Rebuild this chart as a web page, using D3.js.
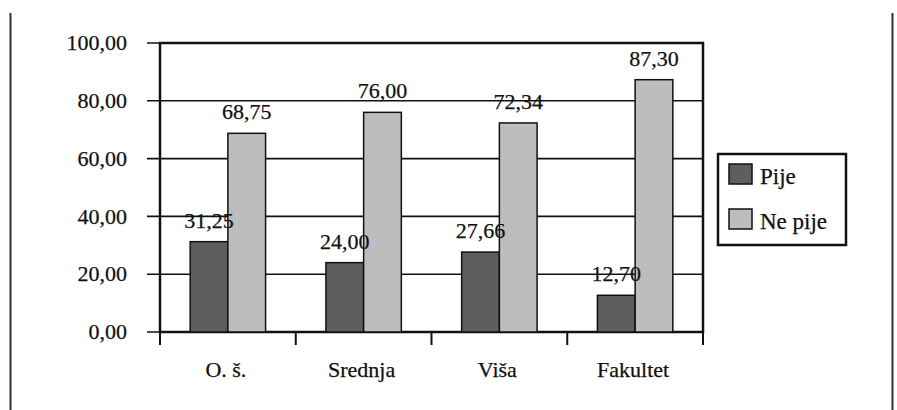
<!DOCTYPE html>
<html>
<head>
<meta charset="utf-8">
<script src="https://cdn.jsdelivr.net/npm/d3@7"></script>
<style>
  body { margin: 0; background: #fff; }
  svg text { font-family: "Liberation Serif", "Times New Roman", Times, serif; fill: #111; stroke: #111; stroke-width: 0.25px; }
</style>
</head>
<body>
<div class="chart"></div>
<script>
// data
var categories = ["O. š.", "Srednja", "Viša", "Fakultet"];
var series = ["Pije", "Ne pije"];
var pije = [31.25, 24.00, 27.66, 12.70];
var nePije = [68.75, 76.00, 72.34, 87.30];
var yTicks = [0, 20, 40, 60, 80, 100];

var colors = ["#5e5e5e", "#bdbdbd"];
var width = 897, height = 410;
var plot = { left: 160, right: 703, top: 43, bottom: 332 };
var fontSize = '22px';

var svg = d3.select('.chart').append('svg')
    .attr('width', width)
    .attr('height', height);

// page frame lines from the scan
svg.append('line').attr('x1', 10.5).attr('y1', 13).attr('x2', 10.5).attr('y2', height)
    .style('stroke', '#333').style('stroke-width', 2);
svg.append('line').attr('x1', 892.5).attr('y1', 13).attr('x2', 892.5).attr('y2', height)
    .style('stroke', '#333').style('stroke-width', 2);

var x = d3.scaleBand().domain(categories).range([plot.left, plot.right]);
var x1 = d3.scaleBand().domain(series).range([0, x.bandwidth()]).paddingInner(0).paddingOuter(0.8);
var y = d3.scaleLinear().domain([0, 100]).range([plot.bottom, plot.top]);

var fmt = function (v) { return d3.format('.2f')(v).replace('.', ','); };

// horizontal gridlines with outward ticks
svg.selectAll('.grid').data(yTicks).enter().append('line')
    .attr('x1', plot.left - 13)
    .attr('x2', plot.right)
    .attr('y1', function (d) { return y(d); })
    .attr('y2', function (d) { return y(d); })
    .style('stroke', '#111')
    .style('stroke-width', 1.6);

svg.selectAll('.ylab').data(yTicks).enter().append('text')
    .attr('x', 127)
    .attr('y', function (d) { return y(d); })
    .attr('dy', '0.33em')
    .attr('text-anchor', 'end')
    .style('font-size', fontSize)
    .text(fmt);

// plot frame
svg.append('rect')
    .attr('x', plot.left).attr('y', plot.top)
    .attr('width', plot.right - plot.left).attr('height', plot.bottom - plot.top)
    .style('fill', 'none').style('stroke', '#111').style('stroke-width', 2.5);

// x ticks
var xTickPos = categories.map(function (c) { return x(c); }).concat([plot.right]);
svg.selectAll('.xtick').data(xTickPos).enter().append('line')
    .attr('x1', function (d) { return d; }).attr('x2', function (d) { return d; })
    .attr('y1', plot.bottom).attr('y2', plot.bottom + 13)
    .style('stroke', '#111').style('stroke-width', 2);

svg.selectAll('.xlab').data(categories).enter().append('text')
    .attr('x', function (d) { return x(d) + x.bandwidth() / 2 - 2; })
    .attr('y', 377)
    .attr('text-anchor', 'middle')
    .style('font-size', fontSize)
    .text(function (d) { return d; });

// bars
var rows = categories.map(function (c, i) {
    return [{ cat: c, s: series[0], v: pije[i], k: 0 }, { cat: c, s: series[1], v: nePije[i], k: 1 }];
});

var groups = svg.selectAll('.grp').data(rows).enter().append('g')
    .attr('transform', function (d) { return 'translate(' + x(d[0].cat) + ',0)'; });

groups.selectAll('rect').data(function (d) { return d; }).enter().append('rect')
    .attr('x', function (d) { return x1(d.s); })
    .attr('y', function (d) { return y(d.v); })
    .attr('width', x1.bandwidth())
    .attr('height', function (d) { return y(0) - y(d.v); })
    .style('fill', function (d) { return colors[d.k]; })
    .style('stroke', '#111')
    .style('stroke-width', 1.5);

groups.selectAll('text').data(function (d) { return d; }).enter().append('text')
    .attr('x', function (d) { return x1(d.s) + x1.bandwidth() / 2; })
    .attr('y', function (d) { return y(d.v) - 14; })
    .attr('text-anchor', 'middle')
    .style('font-size', fontSize)
    .text(function (d) { return fmt(d.v); });

// legend
var legend = svg.append('g').attr('transform', 'translate(718,154)');
legend.append('rect').attr('width', 128).attr('height', 91)
    .style('fill', '#fff').style('stroke', '#111').style('stroke-width', 2.5);
series.forEach(function (s, i) {
    legend.append('rect')
        .attr('x', 11).attr('y', 10 + i * 45)
        .attr('width', 23).attr('height', 20)
        .style('fill', colors[i]).style('stroke', '#111').style('stroke-width', 1.5);
    legend.append('text')
        .attr('x', 42).attr('y', 30 + i * 45)
        .style('font-size', '23px')
        .text(s);
});
</script>
</body>
</html>
